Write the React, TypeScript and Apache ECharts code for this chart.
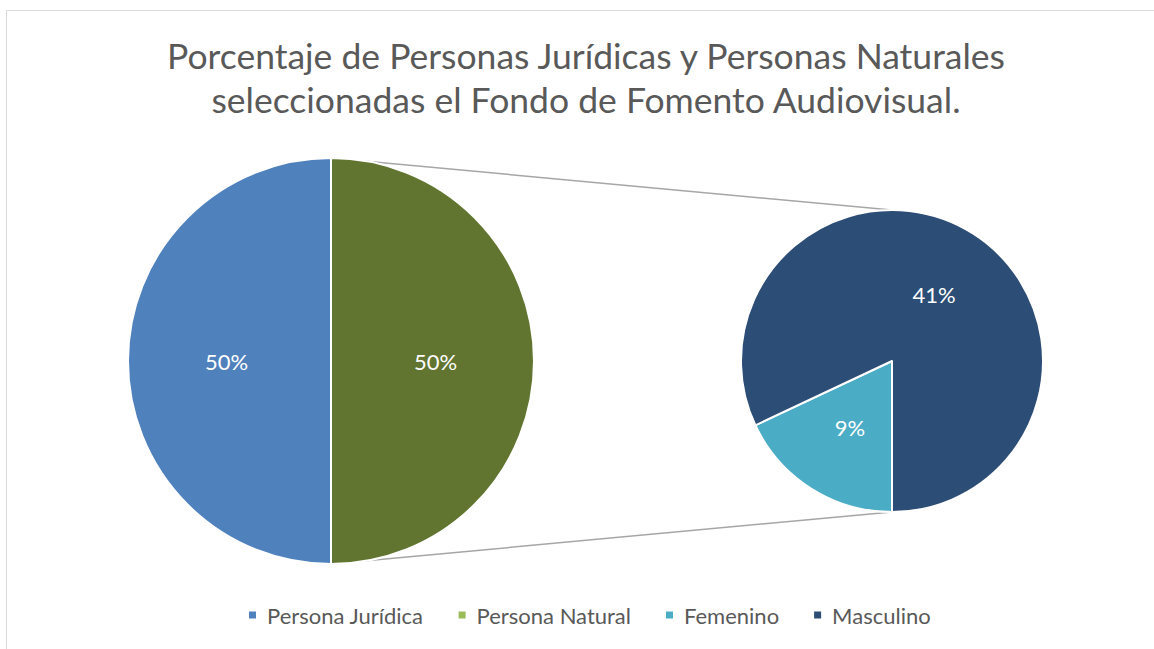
import React, { useEffect, useRef } from "react";
import * as echarts from "echarts";

const titleLines = [
  "Porcentaje de Personas Jurídicas y Personas Naturales",
  "seleccionadas el Fondo de Fomento Audiovisual.",
];
const mainCategories = ["Persona Jurídica", "Persona Natural"];
const mainValues = [50, 50];
const mainColors = ["#4F81BD", "#617530"];
const subCategories = ["Femenino", "Masculino"];
const subValues = [9, 41];
const subColors = ["#4BACC6", "#2C4D75"];
const legendNames = ["Persona Jurídica", "Persona Natural", "Femenino", "Masculino"];
const legendColors = ["#4F81BD", "#9BBB59", "#4BACC6", "#2C4D75"];

const FONT = "Lato";
const LEFT_C = [331, 361];
const LEFT_R = 203;
const RIGHT_C = [892, 361];
const RIGHT_R = 151;

export default function App() {
  const ref = useRef<HTMLDivElement>(null);
  useEffect(() => {
    document.body.style.margin = "0";
    const chart = echarts.init(ref.current!, null, { renderer: "svg" });
    const label = {
      show: true,
      position: "inner",
      formatter: "{c}%",
      color: "#ffffff",
      fontSize: 22,
      fontFamily: FONT,
    };
    chart.setOption({
      animation: false,
      backgroundColor: "#ffffff",
      graphic: [
        {
          type: "rect",
          z: -10,
          shape: { x: 6.5, y: 10.5, width: 1300, height: 800 },
          style: { fill: "none", stroke: "#d9d9d9", lineWidth: 1 },
        },
        {
          type: "line",
          z: -5,
          shape: { x1: LEFT_C[0], y1: LEFT_C[1] - LEFT_R, x2: RIGHT_C[0], y2: RIGHT_C[1] - RIGHT_R },
          style: { stroke: "#a6a6a6", lineWidth: 1.5 },
        },
        {
          type: "line",
          z: -5,
          shape: { x1: LEFT_C[0], y1: LEFT_C[1] + LEFT_R, x2: RIGHT_C[0], y2: RIGHT_C[1] + RIGHT_R },
          style: { stroke: "#a6a6a6", lineWidth: 1.5 },
        },
        {
          type: "text",
          x: 586,
          y: 33,
          style: {
            text: titleLines.join("\n"),
            align: "center",
            verticalAlign: "top",
            fontSize: 35.5,
            lineHeight: 44,
            fontFamily: FONT,
            fill: "#595959",
          },
        },
      ],
      legend: {
        left: 242,
        top: 599,
        icon: "rect",
        itemWidth: 9,
        itemHeight: 9,
        itemGap: 33,
        textStyle: { fontSize: 22, fontFamily: FONT, color: "#595959", padding: [0, 0, 0, 5] },
        data: legendNames.map((n, i) => ({ name: n, itemStyle: { color: legendColors[i] } })),
        selectedMode: false,
      },
      series: [
        {
          type: "pie",
          z: 5,
          center: LEFT_C,
          radius: LEFT_R,
          startAngle: 90,
          clockwise: false,
          silent: true,
          label,
          labelLine: { show: false },
          itemStyle: { borderColor: "#ffffff", borderWidth: 2 },
          emphasis: { disabled: true },
          data: mainCategories.map((n, i) => ({ name: n, value: mainValues[i], itemStyle: { color: mainColors[i] } })),
        },
        {
          type: "pie",
          z: 5,
          center: RIGHT_C,
          radius: RIGHT_R,
          startAngle: -90,
          clockwise: true,
          silent: true,
          label,
          labelLine: { show: false },
          itemStyle: { borderColor: "#ffffff", borderWidth: 2 },
          emphasis: { disabled: true },
          data: subCategories.map((n, i) => ({ name: n, value: subValues[i], itemStyle: { color: subColors[i] } })),
        },
      ],
    });
    return () => chart.dispose();
  }, []);
  return <div ref={ref} style={{ width: 1154, height: 649 }} />;
}
